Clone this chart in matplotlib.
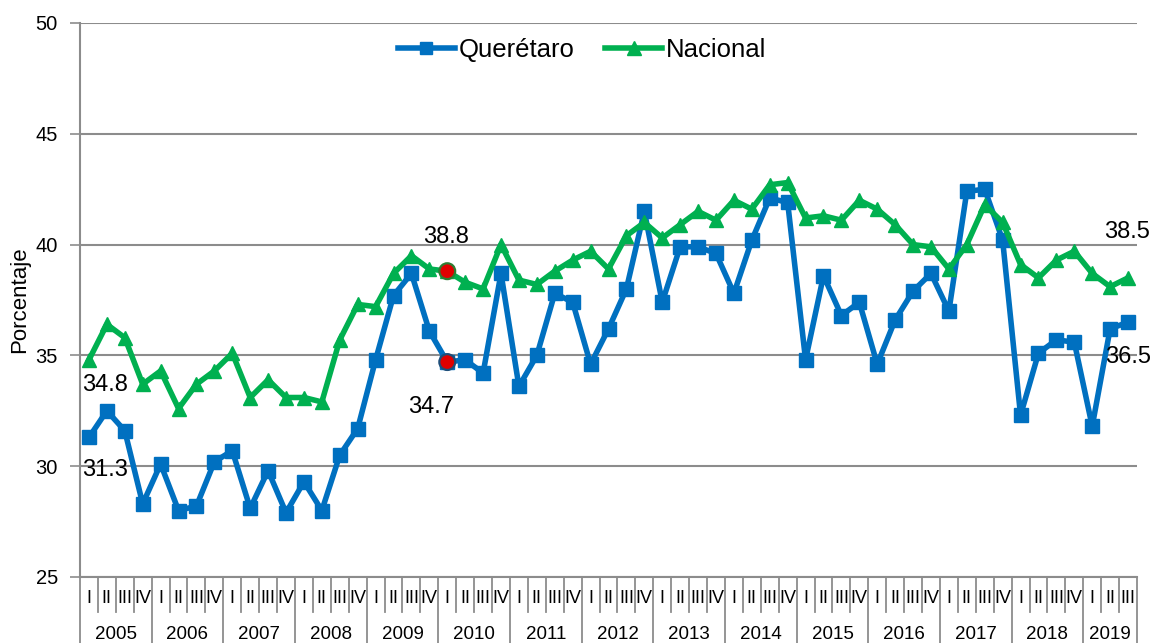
import matplotlib
matplotlib.use("Agg")
import matplotlib.pyplot as plt
import matplotlib.transforms as mtransforms

plt.rcParams["font.family"] = ["Liberation Sans", "DejaVu Sans"]

years = ["2005", "2006", "2007", "2008", "2009", "2010", "2011", "2012",
         "2013", "2014", "2015", "2016", "2017", "2018", "2019"]
quarters = ["I", "II", "III", "IV"]

queretaro = [31.3, 32.5, 31.6, 28.3, 30.1, 28.0, 28.2, 30.2, 30.7, 28.1, 29.8, 27.9,
             29.3, 28.0, 30.5, 31.7, 34.8, 37.7, 38.7, 36.1, 34.7, 34.8, 34.2, 38.7,
             33.6, 35.0, 37.8, 37.4, 34.6, 36.2, 38.0, 41.5, 37.4, 39.9, 39.9, 39.6,
             37.8, 40.2, 42.1, 41.9, 34.8, 38.6, 36.8, 37.4, 34.6, 36.6, 37.9, 38.7,
             37.0, 42.4, 42.5, 40.2, 32.3, 35.1, 35.7, 35.6, 31.8, 36.2, 36.5]
nacional = [34.8, 36.4, 35.8, 33.7, 34.3, 32.6, 33.7, 34.3, 35.1, 33.1, 33.9, 33.1,
            33.1, 32.9, 35.7, 37.3, 37.2, 38.7, 39.5, 38.9, 38.8, 38.3, 38.0, 40.0,
            38.4, 38.2, 38.8, 39.3, 39.7, 38.9, 40.4, 41.0, 40.3, 40.9, 41.5, 41.1,
            42.0, 41.6, 42.7, 42.8, 41.2, 41.3, 41.1, 42.0, 41.6, 40.9, 40.0, 39.9,
            38.9, 40.0, 41.8, 41.0, 39.1, 38.5, 39.3, 39.7, 38.7, 38.1, 38.5]

highlight_idx = 20  # 2010 I

BLUE = "#0070C0"
GREEN = "#00B050"
GRID = "#8C8C8C"

n = len(queretaro)
x = list(range(n))
q_labels = [quarters[i % 4] for i in range(n)]

fig = plt.figure(figsize=(11.53, 6.43), dpi=100)
ax = fig.add_axes([80 / 1153, 66 / 643, 1057 / 1153, 554 / 643])

ax.plot(x, queretaro, color=BLUE, lw=4, marker="s", ms=10, label="Querétaro", zorder=3)
ax.plot(x, nacional, color=GREEN, lw=4, marker="^", ms=10.5, label="Nacional", zorder=3)

ax.scatter([highlight_idx, highlight_idx],
           [queretaro[highlight_idx], nacional[highlight_idx]],
           s=130, color="#E00000", edgecolors=["#1F4E79", "#2E7D32"], linewidths=1.6, zorder=5)

ax.set_ylim(25, 50)
ax.set_xlim(-0.5, n - 0.5)
ax.set_yticks([25, 30, 35, 40, 45, 50])
ax.tick_params(axis="y", labelsize=14.5, length=7, color=GRID, width=1.2, pad=9)
ax.set_xticks([])
ax.grid(True, axis="y", color=GRID, lw=1.5, zorder=0)
ax.set_ylabel("Porcentaje", fontsize=16, labelpad=4)

for side in ["top", "right"]:
    ax.spines[side].set_visible(False)
for side in ["left", "bottom"]:
    ax.spines[side].set_color(GRID)
    ax.spines[side].set_linewidth(1.5)

# two-level category axis: quarters above, years below
trans = mtransforms.blended_transform_factory(ax.transData, ax.transAxes)
for i, lab in enumerate(q_labels):
    ax.text(i, -0.038, lab, transform=trans, ha="center", va="center", fontsize=13, clip_on=False)
for i in range(n + 1):
    bottom = -0.122 if i % 4 == 0 or i == n else -0.063
    ax.plot([i - 0.5, i - 0.5], [0, bottom], transform=trans, color=GRID, lw=1.3, clip_on=False)
for k, yr in enumerate(years):
    start = k * 4
    end = min(start + 4, n)
    ax.text((start + end - 1) / 2, -0.103, yr, transform=trans, ha="center", va="center",
            fontsize=13.5, clip_on=False)

# value labels
notes = [
    (0, nacional[0], (11.5, -18)),
    (0, queretaro[0], (11.5, -23.5)),
    (highlight_idx, nacional[highlight_idx], (-1, 24.5)),
    (highlight_idx, queretaro[highlight_idx], (-12, -32.5)),
    (n - 1, nacional[-1], (-1, 33)),
    (n - 1, queretaro[-1], (0, -25)),
]
for xi, yi, off in notes:
    ax.annotate(f"{yi:.1f}", xy=(xi, yi), xytext=off, textcoords="offset points",
                ha="center", va="center", fontsize=17, zorder=6, annotation_clip=False)

ax.legend(loc="center", bbox_to_anchor=(0.475, 0.951), ncol=2, frameon=False,
          fontsize=18.5, handlelength=2.2, columnspacing=1.2, handletextpad=0.15,
          markerscale=0.9)

fig.savefig("out.png", dpi=100)
